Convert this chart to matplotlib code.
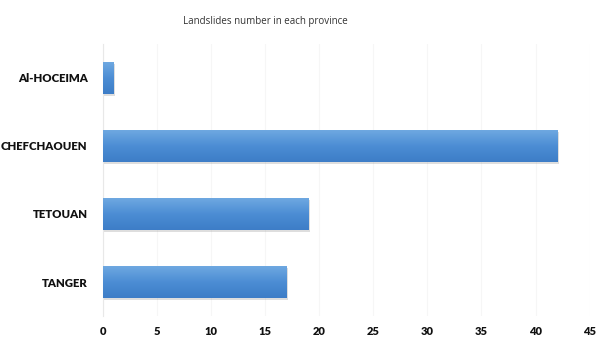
import matplotlib
matplotlib.use("Agg")
import matplotlib.pyplot as plt
import numpy as np
from matplotlib.transforms import offset_copy

provinces = ["TANGER", "TETOUAN", "CHEFCHAOUEN", "Al-HOCEIMA"]
landslides = [17, 19, 42, 1]
x_ticks = [0, 5, 10, 15, 20, 25, 30, 35, 40, 45]

plt.rcParams["font.family"] = ["Lato", "DejaVu Sans"]

fig = plt.figure(figsize=(5.98, 3.38), dpi=100)
ax = fig.add_axes([0.172, 0.065, 0.814, 0.805])

y = np.arange(len(provinces))

# soft shadow behind the bars
ax.barh(y, landslides, height=0.47, color="#7f7f7f", alpha=0.25, zorder=2,
        transform=offset_copy(ax.transData, fig=fig, x=1.0, y=-1.2, units="points"))

bars = ax.barh(y, landslides, height=0.47, color="#4f8fd6", zorder=3)

# vertical gradient, light on top, darker at the bottom
grad = np.linspace(0, 1, 64).reshape(-1, 1)
cmap = matplotlib.colors.LinearSegmentedColormap.from_list("bar", ["#6ea8e1", "#4c8dd4", "#3d7dc7"])
for b in bars:
    x0, y0 = b.get_x(), b.get_y()
    w, h = b.get_width(), b.get_height()
    im = ax.imshow(grad, cmap=cmap, aspect="auto", extent=[x0, x0 + w, y0, y0 + h],
                   origin="upper", zorder=4)
    im.set_clip_path(b)

ax.set_xlim(0, 45)
ax.set_ylim(-0.5, len(provinces) - 0.5)
ax.set_xticks(x_ticks)
ax.set_yticks(y)
ax.set_yticklabels(provinces, fontsize=8.2, fontweight="heavy", color="#111111")
ax.set_xticklabels([str(t) for t in x_ticks], fontsize=8, fontweight="heavy", color="#111111")
ax.tick_params(axis="both", length=0)
ax.tick_params(axis="y", pad=11)
ax.tick_params(axis="x", pad=7)

ax.grid(axis="x", color="#f6f6f6", linewidth=0.8, zorder=0)
for side in ["top", "right", "bottom"]:
    ax.spines[side].set_visible(False)
ax.spines["left"].set_color("#e8e8e8")
ax.spines["left"].set_linewidth(0.8)

fig.text(0.443, 0.935, "Landslides number in each province", family=["Open Sans", "DejaVu Sans"],
         ha="center", va="center", fontsize=7, color="#333333")

fig.savefig("out.png", dpi=100)
